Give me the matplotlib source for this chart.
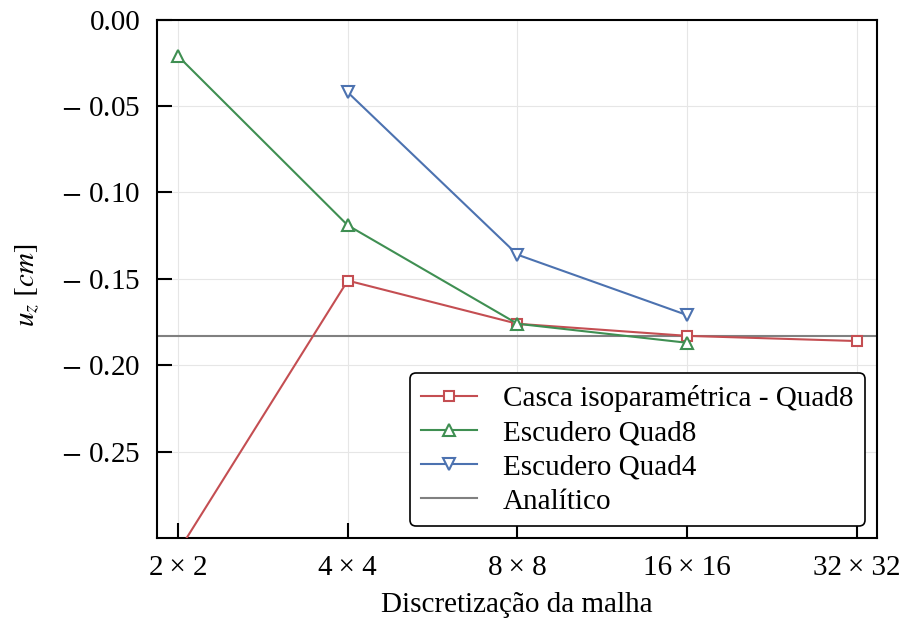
import matplotlib
matplotlib.use("Agg")
from matplotlib import pyplot as plt
from matplotlib.ticker import FixedLocator, FuncFormatter, NullLocator

plt.rcParams['font.family'] = ['Liberation Serif', 'DejaVu Serif']
plt.rcParams['mathtext.fontset'] = 'stix'

# mesh sizes (n x n elements)
malhas = [2, 4, 8, 16, 32]
malha_labels = ['2\u2009× 2', '4\u2009× 4', '8\u2009× 8', '16\u2009× 16', '32\u2009× 32']

# vertical displacement u_z [cm]
casca_quad8 = [-0.308, -0.151, -0.176, -0.183, -0.186]
escudero_quad8_x = [2, 4, 8, 16]
escudero_quad8 = [-0.021, -0.119, -0.176, -0.187]
escudero_quad4_x = [4, 8, 16]
escudero_quad4 = [-0.042, -0.136, -0.171]
analitico = -0.183

fig = plt.figure(figsize=(9.04, 6.21), dpi=100)
ax = fig.add_axes([0.1737, 0.1337, 0.7963, 0.8345])

ax.plot(malhas, casca_quad8, c='#C44E52', marker='s', mfc='white', ms=7,
        mew=1.5, lw=1.5, label='Casca isoparamétrica - Quad8', zorder=3)
ax.plot(escudero_quad8_x, escudero_quad8, c='#3f8f52', marker='^', mfc='white',
        ms=8, mew=1.5, lw=1.5, label='Escudero Quad8', zorder=3)
ax.plot(escudero_quad4_x, escudero_quad4, c='#4C72B0', marker='v', mfc='white',
        ms=8, mew=1.5, lw=1.5, label='Escudero Quad4', zorder=3)
ax.axhline(analitico, c='gray', lw=1.5, label='Analítico', zorder=2)

ax.set_xscale('log', base=2)
ax.set_xlim(2 ** 0.8765, 2 ** 5.1176)
ax.set_ylim(-0.3, 0.0)
ax.xaxis.set_major_locator(FixedLocator(malhas))
ax.xaxis.set_minor_locator(NullLocator())
ax.set_xticklabels(malha_labels)
ax.set_yticks([0.0, -0.05, -0.10, -0.15, -0.20, -0.25])
ax.yaxis.set_major_formatter(FuncFormatter(
    lambda v, pos: '0.00' if abs(v) < 1e-9 else r'$-$ %.2f' % abs(v)))

ax.tick_params(axis='both', which='major', direction='in', length=11,
               width=1.5, labelsize=21, pad=12)
for s in ax.spines.values():
    s.set_linewidth(1.5)
ax.grid(True, color='#e6e6e6', lw=0.8)
ax.set_axisbelow(True)

ax.set_xlabel('Discretização da malha', fontsize=21, labelpad=8)
ax.set_ylabel(r'$u_z\ [cm]$', fontsize=21)
ax.yaxis.set_label_coords(-0.16, 0.488)

leg = ax.legend(loc='lower right', fontsize=21, handlelength=1.9,
                frameon=True, fancybox=True, framealpha=1,
                edgecolor='black', borderaxespad=0.4, labelspacing=0.27,
                handletextpad=0.9, borderpad=0.4)
leg.get_frame().set_linewidth(1.2)

fig.savefig('out.png', dpi=100)
